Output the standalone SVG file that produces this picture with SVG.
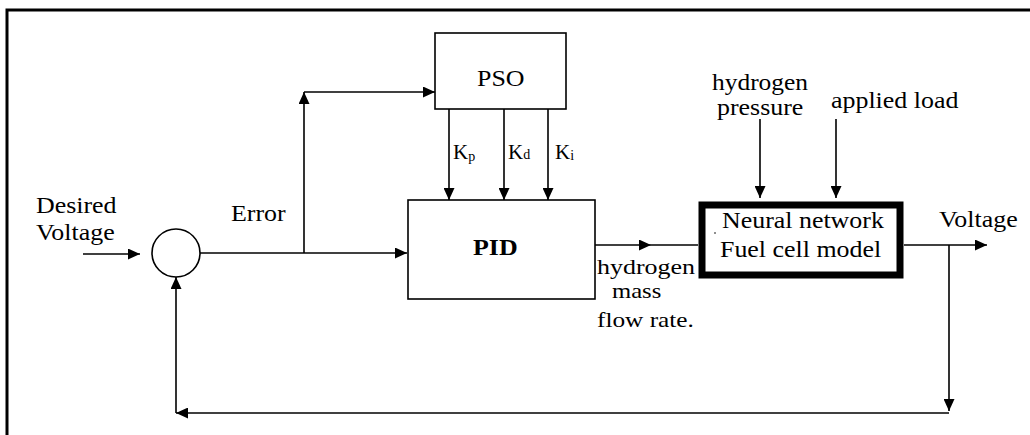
<svg xmlns="http://www.w3.org/2000/svg" width="1030" height="435" viewBox="0 0 1030 435">
<defs>
<marker id="arr" viewBox="0 0 12 11" refX="12" refY="5.5" markerWidth="12" markerHeight="11" markerUnits="userSpaceOnUse" orient="auto">
<path d="M0,0 L12,5.5 L0,11 z" fill="#000"/>
</marker>
</defs>
<style>
text{font-family:'Liberation Serif','Times New Roman',serif;font-size:24px;fill:#000}
.bold{font-weight:bold}
.k{font-size:21px}
.sub{font-size:14px}
.sm{font-size:22px}
.box{fill:#fff;stroke:#000;stroke-width:1.6}
.c{fill:none;stroke:#000;stroke-width:1.6}
.ca{fill:none;stroke:#000;stroke-width:1.6;marker-end:url(#arr)}
</style>
<rect width="1030" height="435" fill="#fff"/>
<path d="M7,435 V10 H1030" fill="none" stroke="#000" stroke-width="3"/>

<g id="connectors">
<path class="ca" d="M83,254 H140"/>
<path class="ca" d="M200,253 H407"/>
<path class="ca" d="M304,253 V92"/>
<path class="ca" d="M304,92 H435"/>
<path class="ca" d="M449,109 V200"/>
<path class="ca" d="M504,109 V200"/>
<path class="ca" d="M548,109 V200"/>
<path class="ca" d="M595,245 H651"/>
<path class="c" d="M651,245 H698"/>
<path class="ca" d="M760,119 V198"/>
<path class="ca" d="M836,119 V198"/>
<path class="ca" d="M904,245 H987"/>
<path class="ca" d="M949,245 V411"/>
<path class="ca" d="M949,413 H176"/>
<path class="ca" d="M176,413 V277"/>
</g>

<g id="sum">
<circle cx="176" cy="253" r="24" class="box"/>
</g>

<g id="pso">
<rect class="box" x="435" y="33" width="131" height="76"/>
<text transform="translate(477,86) scale(1.08,1)">PSO</text>
</g>

<g id="pid">
<rect class="box" x="408" y="200" width="187" height="99"/>
<text class="bold" transform="translate(473,255) scale(1.08,1)">PID</text>
</g>

<g id="fuelcell">
<rect x="702" y="205" width="198" height="70" fill="#fff" stroke="#000" stroke-width="7"/>
<text transform="translate(722,228) scale(1.08,1)">Neural network</text>
<text transform="translate(720,257) scale(1.08,1)">Fuel cell model</text>
<circle cx="715" cy="233" r="0.8" fill="#000"/>
</g>

<g id="labels">
<text transform="translate(36,213) scale(1.08,1)">Desired</text>
<text transform="translate(36,240) scale(1.08,1)">Voltage</text>
<text transform="translate(231,221) scale(1.08,1)">Error</text>
<text class="k" x="453" y="159">K<tspan class="sub" dy="2">p</tspan></text>
<text class="k" x="508" y="159">K<tspan class="sub" dy="0">d</tspan></text>
<text class="k" x="555" y="159">K<tspan class="sub" dy="1">i</tspan></text>
<text transform="translate(712,90) scale(1.06,1)">hydrogen</text>
<text transform="translate(717,115) scale(1.08,1)">pressure</text>
<text transform="translate(831,108) scale(1.08,1)">applied load</text>
<text class="sm" transform="translate(597,274) scale(1.18,1)">hydrogen</text>
<text class="sm" transform="translate(612,298) scale(1.12,1)">mass</text>
<text class="sm" transform="translate(597,327) scale(1.15,1)">flow rate.</text>
<text transform="translate(939,227) scale(1.08,1)">Voltage</text>
</g>
</svg>
